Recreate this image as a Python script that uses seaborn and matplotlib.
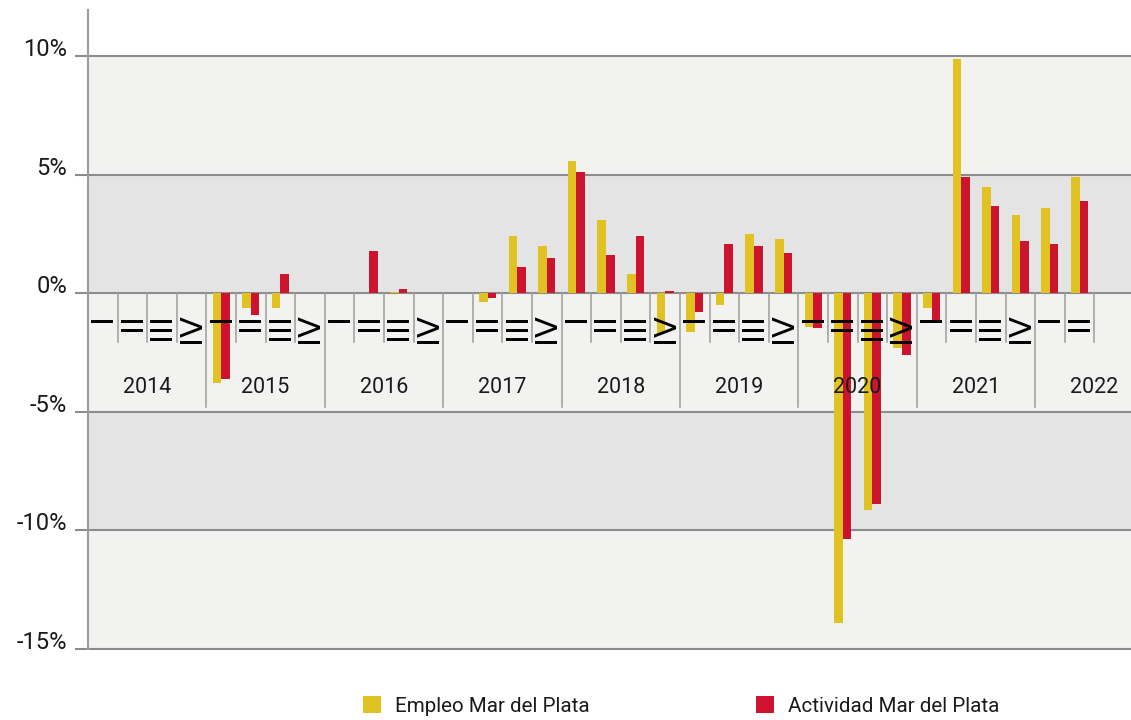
import numpy as np
import pandas as pd
import matplotlib
matplotlib.use("Agg")
import matplotlib.pyplot as plt
import seaborn as sns

years = ['2014', '2015', '2016', '2017', '2018', '2019', '2020', '2021', '2022']
quarters = ['I', 'II', 'III', 'IV']

# variación interanual (%), 2014-I .. 2022-II
empleo = [np.nan, np.nan, np.nan, np.nan,
          -3.8, -0.6, -0.6, np.nan,
          np.nan, 0.0, 0.05, np.nan,
          np.nan, -0.35, 2.4, 2.0,
          5.6, 3.1, 0.8, -1.7,
          -1.65, -0.5, 2.5, 2.3,
          -1.4, -13.9, -9.15, -2.3,
          -0.6, 9.9, 4.5, 3.3,
          3.6, 4.9]
actividad = [np.nan, np.nan, np.nan, np.nan,
             -3.6, -0.9, 0.8, np.nan,
             np.nan, 1.8, 0.2, np.nan,
             np.nan, -0.2, 1.1, 1.5,
             5.1, 1.6, 2.4, 0.1,
             -0.8, 2.1, 2.0, 1.7,
             -1.45, -10.35, -8.9, -2.6,
             -1.27, 4.9, 3.7, 2.2,
             2.1, 3.9]

periods = [f'{y}-{q}' for y in years for q in quarters][:len(empleo)]
df = pd.DataFrame({
    'periodo': periods * 2,
    'valor': empleo + actividad,
    'serie': ['Empleo Mar del Plata'] * len(periods) + ['Actividad Mar del Plata'] * len(periods),
})

yellow = '#E0C223'
red = '#CC142E'
light = '#F2F2F1'
dark = '#E4E4E4'
grid = '#8C8C8C'
sep = '#9C9C9C'

plt.rcParams['font.family'] = ['Roboto', 'DejaVu Sans']
fig = plt.figure(figsize=(11.31, 7.2), dpi=100)
ax = fig.add_axes([88 / 1131, 71 / 720, 1043 / 1131, 639 / 720])
ax.set_facecolor('white')

n = len(periods)

# bandas de fondo
ax.axhspan(5, 10, color=light, zorder=0, lw=0)
ax.axhspan(0, 5, color=dark, zorder=0, lw=0)
ax.axhspan(-5, 0, color=light, zorder=0, lw=0)
ax.axhspan(-10, -5, color=dark, zorder=0, lw=0)
ax.axhspan(-15, -10, color=light, zorder=0, lw=0)

sns.barplot(data=df, x='periodo', y='valor', hue='serie', order=periods,
            palette=[yellow, red], saturation=1, width=0.58, gap=0,
            linewidth=0, ax=ax, zorder=2, legend=True)

ax.set_xlim(-0.5, 34.74)
ax.set_ylim(-15, 11.95)

yt = [10, 5, 0, -5, -10, -15]
ax.hlines(yt, -13 / 1043, 1, transform=ax.get_yaxis_transform(), colors=grid,
          lw=1.5, zorder=1, clip_on=False)
ax.set_yticks(yt)
ax.set_yticklabels([f'{v}%' for v in yt], fontsize=17, color='#1a1a1a')
for lab in ax.get_yticklabels():
    lab.set_va('baseline')
ax.tick_params(axis='y', length=0, pad=15)
ax.set_xticks([])
ax.set_xlabel('')
ax.set_ylabel('')

for s in ['top', 'right', 'bottom']:
    ax.spines[s].set_visible(False)
ax.spines['left'].set_color(sep)
ax.spines['left'].set_linewidth(1.5)

# separadores de trimestres y años
for k in range(1, n + 1):
    bottom = -4.81 if k % 4 == 0 else -2.07
    ax.plot([k - 0.5, k - 0.5], [0, bottom], color=sep, lw=1.1, zorder=1.5)

# trimestres en números romanos, girados
for i, p in enumerate(periods):
    q = p.split('-')[1]
    ax.text(i, -0.85, q, rotation=90, ha='center', va='top',
            fontsize=22, family=['DejaVu Sans'], color='black', zorder=3)

for j, y in enumerate(years):
    ax.text(4 * j + 1.5, -3.97, y, ha='center', va='center', fontsize=15.5,
            color='#1a1a1a', zorder=3)

handles, labels = ax.get_legend_handles_labels()
ax.get_legend().remove()
fig.legend(handles, labels, loc='center', bbox_to_anchor=(0.6025, 0.0194), ncol=2,
           frameon=False, fontsize=14.8, handlelength=0.85, handleheight=0.85,
           handletextpad=0.7, columnspacing=8.1, labelcolor='#1a1a1a')

plt.savefig('out.png', dpi=100)
